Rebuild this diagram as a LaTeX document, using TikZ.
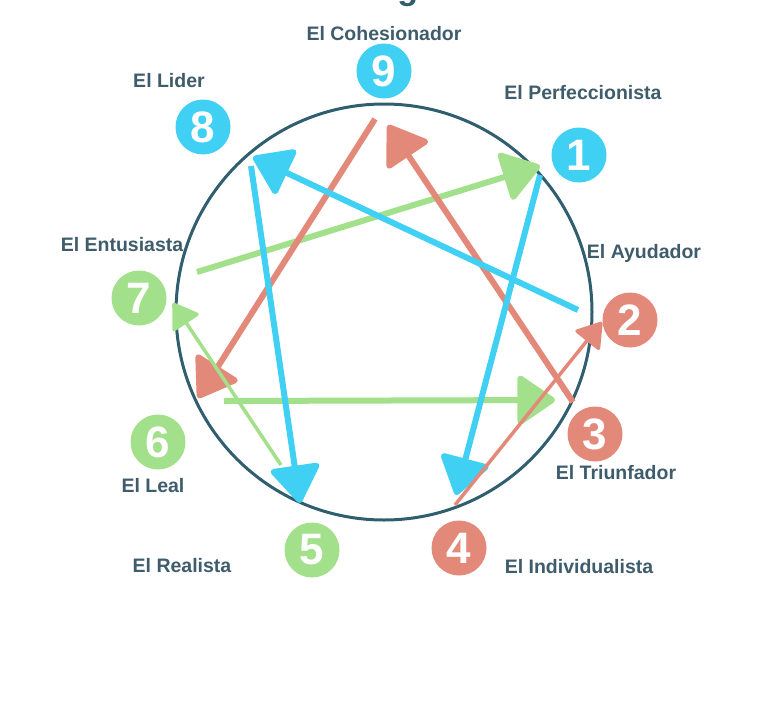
\documentclass[tikz,border=0pt]{standalone}
\usepackage{fontspec}
\setmainfont{Liberation Sans}
\usetikzlibrary{arrows.meta}

\definecolor{eblue}{HTML}{3FD0F4}
\definecolor{egreen}{HTML}{A3E08B}
\definecolor{ered}{HTML}{E3897A}
\definecolor{ering}{HTML}{2F5E6E}
\definecolor{etext}{HTML}{3E5C6B}

\tikzset{
	badge/.style={circle, minimum size=55pt, inner sep=0pt, text=white, font=\fontsize{44}{44}\selectfont\bfseries},
	persona/.style={anchor=base, text=etext, font=\fontsize{19.5}{22}\selectfont\bfseries},
	bigline/.style={line width=6pt, -{Triangle[length=40pt, width=53pt, round]}},
	thinline/.style={line width=3.5pt, -{Triangle[length=26pt, width=33pt, round]}},
}

\begin{document}
\begin{tikzpicture}[x=1pt,y=-1pt]
		\useasboundingbox (0,0) rectangle (768,704);
		%title, cut by the top edge
		\node (title) at (387,-1) [anchor=base, text=ering, font=\fontsize{34}{34}\selectfont\bfseries]{El Eneagrama};
		
		%ring
		\draw[ering, line width=3pt] (384,312) circle (208pt);
		
		%ends of the lines
		\coordinate (s14) at (540,175);  \coordinate (e14) at (456,495);
		\coordinate (s28) at (578,310);  \coordinate (e28) at (253,157);
		\coordinate (s85) at (251,166);  \coordinate (e85) at (300,503);
		\coordinate (s57) at (281,465);  \coordinate (e57) at (173,303);
		\coordinate (s71) at (197,272);  \coordinate (e71) at (540,166);
		\coordinate (s63) at (224,401);  \coordinate (e63) at (555,400);
		\coordinate (s96) at (375,119);  \coordinate (e96) at (198,398);
		\coordinate (s39) at (573,402);  \coordinate (e39) at (388,125);
		\coordinate (s42) at (455,505);  \coordinate (e42) at (602,322);
		
		%lines
		\draw[bigline, egreen] (s71) -- (e71);
		\draw[bigline, egreen] (s63) -- (e63);
		\draw[bigline, ered] (s96) -- (e96);
		\draw[bigline, ered] (s39) -- (e39);
		\draw[thinline, egreen] (s57) -- (e57);
		\draw[bigline, eblue] (s14) -- (e14);
		\draw[bigline, eblue] (s28) -- (e28);
		\draw[bigline, eblue] (s85) -- (e85);
		\draw[thinline, ered] (s42) -- (e42);
		
		%numbers
		\foreach \n/\x/\y/\c in {9/384/71/eblue, 8/203/127/eblue, 1/579/155/eblue,
			7/139/298/egreen, 6/158/442/egreen, 5/312/550/egreen,
			2/630/320/ered, 3/595/434/ered, 4/459/548/ered}{
			\node (b\n) at (\x,\y) [badge, fill=\c]{\n};
		}
		
		%names
		\node (l9) at (384,40) [persona]{El Cohesionador};
		\node (l8) at (169,87) [persona]{El Lider};
		\node (l1) at (583,99) [persona]{El Perfeccionista};
		\node (l2) at (644,258) [persona]{El Ayudador};
		\node (l7) at (122,251) [persona]{El Entusiasta};
		\node (l6) at (153,492) [persona]{El Leal};
		\node (l3) at (616,479) [persona]{El Triunfador};
		\node (l5) at (182,572) [persona]{El Realista};
		\node (l4) at (579,573) [persona]{El Individualista};
\end{tikzpicture}
\end{document}
